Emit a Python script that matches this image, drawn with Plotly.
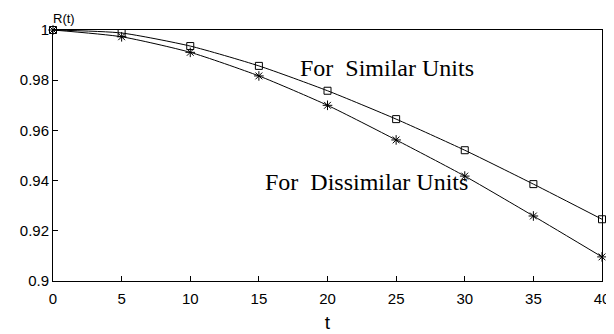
import plotly.graph_objects as go

t = [0, 5, 10, 15, 20, 25, 30, 35, 40]
r_similar = [1.0, 0.9988, 0.9936, 0.9857, 0.9758, 0.9645, 0.9521, 0.9386, 0.9246]
r_dissimilar = [1.0, 0.9973, 0.9911, 0.9817, 0.9700, 0.9562, 0.9418, 0.9259, 0.9096]
x_ticks = [0, 5, 10, 15, 20, 25, 30, 35, 40]
y_ticks = [0.9, 0.92, 0.94, 0.96, 0.98, 1.0]
y_ticklabels = ["0.9", "0.92", "0.94", "0.96", "0.98", "1"]

fig = go.Figure()
fig.add_trace(go.Scatter(
    x=t, y=r_similar, mode="lines+markers",
    line=dict(color="black", width=1, shape="spline", smoothing=0.6),
    marker=dict(symbol="square-open", size=7, color="black", line=dict(width=1)),
    cliponaxis=False, showlegend=False))
fig.add_trace(go.Scatter(
    x=t, y=r_dissimilar, mode="lines+markers",
    line=dict(color="black", width=1, shape="spline", smoothing=0.6),
    marker=dict(symbol="asterisk-open", size=8, color="black", line=dict(width=1, color="black")),
    cliponaxis=False, showlegend=False))

fig.add_annotation(x=0.609, y=0.849, xref="paper", yref="paper",
                   xanchor="center", yanchor="middle",
                   text="For  Similar Units", showarrow=False,
                   font=dict(family="Liberation Serif", size=24, color="black"))
fig.add_annotation(x=0.571, y=0.394, xref="paper", yref="paper",
                   xanchor="center", yanchor="middle",
                   text="For  Dissimilar Units", showarrow=False,
                   font=dict(family="Liberation Serif", size=24, color="black"))
fig.add_annotation(x=0, y=1, xref="paper", yref="paper", xanchor="left", yanchor="bottom",
                   text="R(t)", showarrow=False, yshift=2, xshift=-2,
                   font=dict(family="Liberation Sans", size=13, color="black"))

fig.update_xaxes(range=[0, 40], tickvals=x_ticks, ticks="inside", ticklen=5,
                 tickcolor="black", showline=True, linecolor="black", linewidth=1,
                 mirror=True, showgrid=False, zeroline=False, ticklabelstandoff=4,
                 tickfont=dict(family="Liberation Sans", size=15, color="black"),
                 title=dict(text="t", standoff=9,
                            font=dict(family="Liberation Sans", size=19, color="black")))
fig.update_yaxes(range=[0.9, 1.0], tickvals=y_ticks, ticktext=y_ticklabels,
                 ticks="inside", ticklen=5, tickcolor="black", showline=True,
                 linecolor="black", linewidth=1, mirror=True, showgrid=False,
                 zeroline=False,
                 tickfont=dict(family="Liberation Sans", size=15, color="black"))

fig.update_layout(width=614, height=334, margin=dict(l=43, r=18, t=22, b=61),
                  plot_bgcolor="white", paper_bgcolor="white")

fig.write_html("out.html")
